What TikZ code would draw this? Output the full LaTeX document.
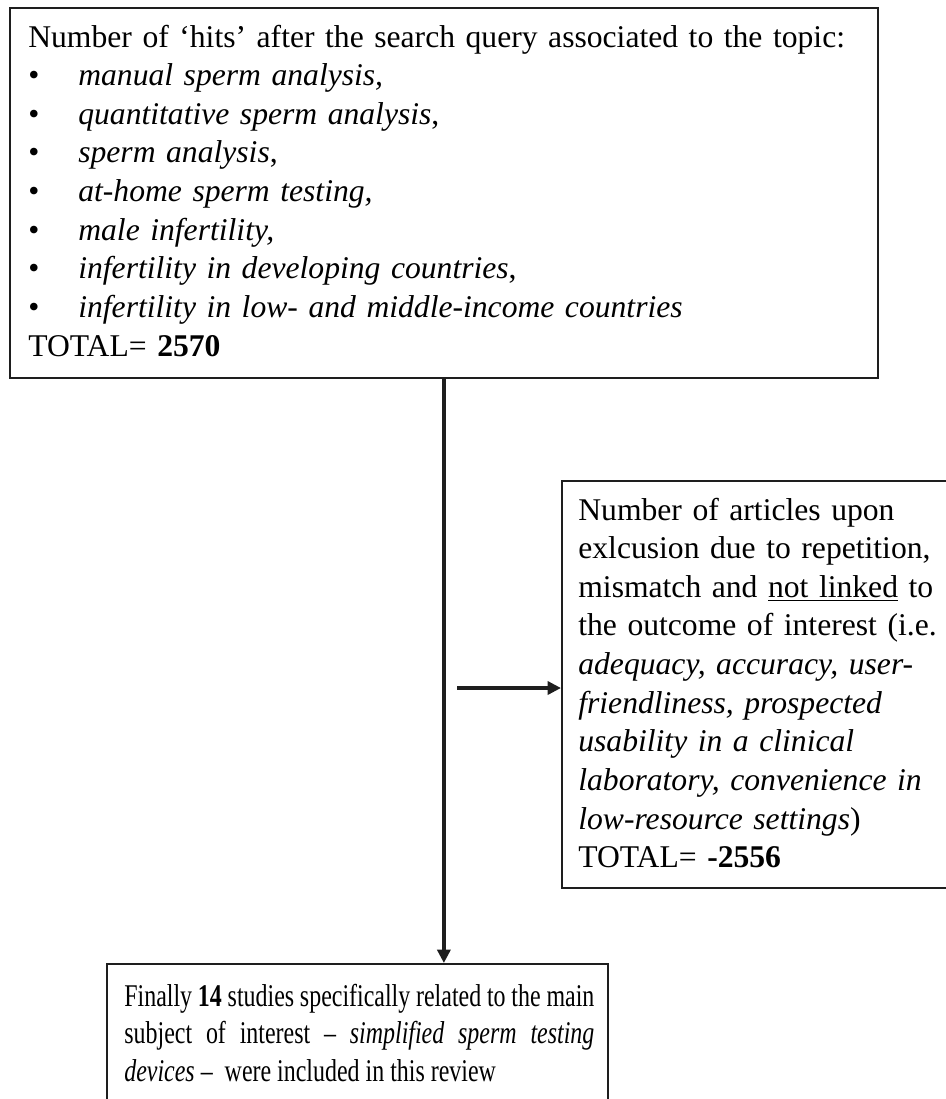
\documentclass[tikz,border=0pt]{standalone}
\usepackage{fontspec}
\setmainfont{Liberation Serif}
\usepackage{graphicx}
\usetikzlibrary{arrows, arrows.meta}
\usetikzlibrary{positioning}
\definecolor{myblack}{RGB}{30,30,30}

\newcommand{\itembul}{\makebox[1cm][l]{\textbullet}}

\tikzset{
box/.style={draw=myblack, line width=1.1pt, anchor=north west, inner sep=0pt},
txt/.style={anchor=base west, inner sep=0pt, font=\fontsize{18}{22}\selectfont},
flow/.style={-{Triangle[length=7.6pt, width=7.4pt]}, line width=2.3pt, draw=myblack}
}

\begin{document}
\begin{tikzpicture}[x=0.02cm, y=-0.02cm]
\useasboundingbox (0,0) rectangle (946,1099);

% boxes
\node[box, minimum width=17.36cm, minimum height=7.4cm] (hits) at (9,7) {};
\node[box, minimum width=7.98cm, minimum height=8.14cm] (excl) at (561,480) {};
\node[box, minimum width=10.02cm, minimum height=3.14cm] (final) at (106,963) {};

% texts
\node[txt, text width=17cm, align=left] (hitstxt) at (28,47) {Number of `hits' after the search query associated to the topic:\\
\itembul\textit{manual sperm analysis,}\\
\itembul\textit{quantitative sperm analysis},\\
\itembul\textit{sperm analysis},\\
\itembul\textit{at-home sperm testing,}\\
\itembul\textit{male infertility,}\\
\itembul\textit{infertility in developing countries},\\
\itembul\textit{infertility in low- and middle-income countries}\\
TOTAL= \textbf{2570}};

\node[txt, text width=7.4cm, align=left] (excltxt) at (578,520) {Number of articles upon\\
exlcusion due to repetition,\\
mismatch and \underline{not linked} to\\
the outcome of interest (i.e.\\
\textit{adequacy, accuracy, user-}\\
\textit{friendliness, prospected}\\
\textit{usability in a clinical}\\
\textit{laboratory, convenience in}\\
\textit{low-resource settings})\\
TOTAL= \textbf{-2556}};

\node[txt, font=\fontsize{18}{21.6}\selectfont] (finaltxt) at (124,1006) {\scalebox{0.757}[1]{\parbox[t]{12.42cm}{Finally \textbf{14} studies specifically related to the main\\
\makebox[12.42cm][s]{subject of interest -- \textit{simplified sperm testing}}\\
\textit{devices} --\ \ were included in this review}}};

% arrows
\coordinate (tail) at (457,688);
\draw[flow] (hits.south) -- (hits.south |- final.north);
\draw[flow] (tail) -- (tail -| excl.west);

\end{tikzpicture}
\end{document}
